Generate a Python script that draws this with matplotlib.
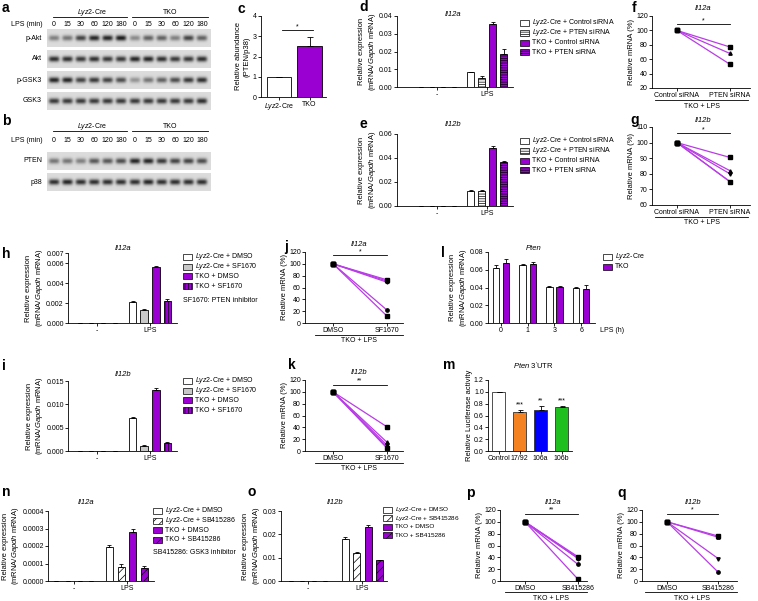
import numpy as np
import matplotlib
matplotlib.use("Agg")
import matplotlib.pyplot as plt
from matplotlib.patches import Rectangle
from matplotlib.ticker import FormatStrFormatter

plt.rcParams['font.family'] = 'Liberation Sans'
plt.rcParams['mathtext.fontset'] = 'custom'
plt.rcParams['mathtext.rm'] = 'Liberation Sans'
plt.rcParams['mathtext.it'] = 'Liberation Sans:italic'
plt.rcParams['hatch.linewidth'] = 0.5
plt.rcParams['axes.linewidth'] = 0.6

# ---------------- data ----------------
lps_minutes = ['0', '15', '30', '60', '120', '180']
# band darkness per lane: 6 x Lyz2-Cre then 6 x TKO
pakt_bands = [0.45, 0.5, 0.75, 0.9, 0.9, 0.95, 0.4, 0.6, 0.6, 0.45, 0.75, 0.6]
akt_bands = [0.85, 0.85, 0.8, 0.85, 0.8, 0.8, 0.9, 0.9, 0.85, 0.8, 0.8, 0.85]
pgsk3_bands = [0.9, 0.9, 0.75, 0.8, 0.75, 0.7, 0.35, 0.5, 0.6, 0.7, 0.8, 0.85]
gsk3_bands = [0.8, 0.8, 0.8, 0.8, 0.8, 0.8, 0.8, 0.8, 0.8, 0.8, 0.8, 0.85]
pten_bands = [0.5, 0.5, 0.45, 0.65, 0.65, 0.7, 0.9, 0.9, 0.8, 0.75, 0.75, 0.7]
p38_bands = [0.85, 0.9, 0.85, 0.85, 0.85, 0.85, 0.85, 0.9, 0.85, 0.85, 0.85, 0.85]

c_labels = [r'$\it{Lyz2}$-Cre', 'TKO']
c_mean = [1.0, 2.5]
c_err = [0.0, 0.45]

groups = ['-', 'LPS']
sirna_labels = [r'$\it{Lyz2}$-Cre + Control siRNA', r'$\it{Lyz2}$-Cre + PTEN siRNA',
                'TKO + Control siRNA', 'TKO + PTEN siRNA']
d_mean = [[0.0001, 0.0001, 0.0002, 0.0001], [0.0083, 0.0053, 0.0355, 0.0185]]
d_err = [[0, 0, 0, 0], [0.0003, 0.0007, 0.0012, 0.003]]
e_mean = [[0.0002, 0.0002, 0.0003, 0.0002], [0.0128, 0.0128, 0.0485, 0.0365]]
e_err = [[0, 0, 0, 0], [0.0004, 0.0005, 0.0012, 0.0012]]

pair_f = ['Control siRNA', 'PTEN siRNA']
f_after = [77, 68, 53]
g_after = [90.5, 82, 80, 75, 75]

sf_labels = [r'$\it{Lyz2}$-Cre + DMSO', r'$\it{Lyz2}$-Cre + SF1670', 'TKO + DMSO', 'TKO + SF1670']
h_mean = [[0.00002, 0.00002, 0.00002, 0.00002], [0.0021, 0.00135, 0.0056, 0.0022]]
h_err = [[0, 0, 0, 0], [0.0001, 0.00008, 0.00012, 0.0002]]
i_mean = [[0.00003, 0.00003, 0.00003, 0.00003], [0.0071, 0.0011, 0.0131, 0.0018]]
i_err = [[0, 0, 0, 0], [0.0002, 0.0001, 0.0003, 0.0001]]

pair_sf = ['DMSO', 'SF1670']
j_after = [73, 71, 69, 22, 12]
k_after = [41, 15, 10, 7, 5]

l_hours = ['0', '1', '3', '6']
l_lyz = [0.062, 0.065, 0.041, 0.039]
l_lyz_err = [0.003, 0.002, 0.001, 0.002]
l_tko = [0.068, 0.067, 0.041, 0.038]
l_tko_err = [0.004, 0.002, 0.001, 0.005]

m_labels = ['Control', '17/92', '106a', '106b']
m_mean = [1.0, 0.66, 0.70, 0.74]
m_err = [0.0, 0.03, 0.06, 0.02]
m_stars = ['', '***', '**', '***']

sb_labels = [r'$\it{Lyz2}$-Cre + DMSO', r'$\it{Lyz2}$-Cre + SB415286', 'TKO + DMSO', 'TKO + SB415286']
n_mean = [[0.000001, 0.000001, 0.000001, 0.000001], [0.000195, 0.000078, 0.00028, 0.000075]]
n_err = [[0, 0, 0, 0], [0.00001, 0.00002, 0.000015, 0.00001]]
o_mean = [[0.0001, 0.0001, 0.0001, 0.0001], [0.018, 0.012, 0.0233, 0.0089]]
o_err = [[0, 0, 0, 0], [0.0007, 0.0004, 0.0005, 0.0003]]

pair_sb = ['DMSO', 'SB415286']
p_after = [41, 39, 38, 28, 3]
q_after = [76, 74, 38, 15]

# ---------------- styles ----------------
PURPLE = '#9b00d2'
LINE = '#b83de6'
GREY = '#c8c8c8'
FS = 5
sirna_styles = [('white', None), ('white', '-------'), (PURPLE, None), (PURPLE, '-------')]
sf_styles = [('white', None), (GREY, None), (PURPLE, None), (PURPLE, '|||||')]
sb_styles = [('white', None), ('white', '////'), (PURPLE, None), (PURPLE, '////')]
m_colors = ['white', '#f58220', '#0000ff', '#1fbf1f']
f_markers = ['s', '^', 's']
pair_markers = ['s', '^', 'v', 'o', 's']
EXPR = 'Relative expression\n(mRNA/$\\it{Gapdh}$ mRNA)'

W, H = 758, 601
fig = plt.figure(figsize=(W / 100, H / 100), dpi=100)

# pixel-coordinate overlay for blots, titles, legends and panel letters
ov = fig.add_axes([0, 0, 1, 1], zorder=10)
ov.axis('off')


def px_axes(x0, y0, x1, y1):
    ax = fig.add_axes([x0 / W, 1 - y1 / H, (x1 - x0) / W, (y1 - y0) / H])
    ax.spines['top'].set_visible(False)
    ax.spines['right'].set_visible(False)
    ax.tick_params(direction='out', length=2, width=0.6, labelsize=FS, pad=1)
    ax.patch.set_alpha(0)
    return ax


def T(x, y, s, **kw):
    kw.setdefault('fontsize', FS)
    kw.setdefault('ha', 'center')
    kw.setdefault('va', 'center')
    ov.text(x, y, s, **kw)


def panel(x, y, s):
    ov.text(x, y, s, fontsize=10, fontweight='bold', ha='left', va='top')


def grouped(ax, means, errs, styles, off, width):
    means = np.array(means)
    errs = np.array(errs)
    xg = np.arange(means.shape[0])
    for b, (fc, hatch) in enumerate(styles):
        xs = xg + (b - 1.5) * off
        ax.bar(xs, means[:, b], width, color=fc, edgecolor='black', hatch=hatch,
               linewidth=0.6, zorder=2)
        e = errs[:, b]
        ax.errorbar(xs, means[:, b], yerr=[np.zeros_like(e), e], fmt='none', ecolor='black',
                    elinewidth=0.6, capsize=1.6, capthick=0.6, zorder=3)


def legend_px(x, y, dy, labels, styles, fs=FS):
    for k, (lab, (fc, hatch)) in enumerate(zip(labels, styles)):
        yy = y + k * dy
        ov.add_patch(Rectangle((x, yy - 3), 9, 6, facecolor=fc, edgecolor='black',
                               hatch=hatch, lw=0.5))
        T(x + 12, yy, lab, ha='left', fontsize=fs)


def paired(ax, after, ticklabels, ylim, yticks, sig_y, star, markers=pair_markers):
    for v, mk in zip(after, markers):
        ax.plot([0, 1], [100, v], color=LINE, lw=0.9, zorder=2)
        ax.plot([0], [100], marker='s', ms=2.4, color='black', ls='none', zorder=3)
        ax.plot([1], [v], marker=mk, ms=2.4, color='black', ls='none', zorder=3)
    ax.set_ylim(*ylim)
    ax.set_yticks(yticks)
    ax.set_xticks([0, 1])
    ax.set_xticklabels(ticklabels)
    ax.plot([0, 1], [sig_y, sig_y], color='black', lw=0.6, clip_on=False)
    ax.text(0.5, sig_y, star, fontsize=FS, ha='center', va='bottom')
    ax.set_ylabel('Relative mRNA (%)', fontsize=5.5, labelpad=1)


# ---------------- a / b: western blots ----------------
lane_x = np.concatenate([np.linspace(54, 121, 6), np.linspace(135, 202, 6)])


def blot(y0, y1, bands, name):
    x0, x1 = 47, 211
    sub = 4
    xs = np.linspace(x0, x1, (x1 - x0) * sub)
    ys = np.linspace(y0, y1, (y1 - y0) * sub)
    X, Y = np.meshgrid(xs, ys)
    img = np.full(X.shape, 0.86)
    yc = (y0 + y1) / 2
    for xc, v in zip(lane_x, bands):
        img -= 0.8 * v * np.exp(-((X - xc) / 5.3) ** 4 - ((Y - yc) / 2.8) ** 2)
    ov.imshow(img, cmap='gray', vmin=0, vmax=1, extent=(x0, x1, y1, y0),
              aspect='auto', interpolation='bilinear')
    T(42, yc, name, ha='right')


def blot_header(y_head, y_lps):
    T(92, y_head - 5, r'$\it{Lyz2}$-Cre')
    T(170, y_head - 5, 'TKO')
    ov.plot([53, 127], [y_head, y_head], color='black', lw=0.6)
    ov.plot([132, 208], [y_head, y_head], color='black', lw=0.6)
    T(43, y_lps, 'LPS (min)', ha='right')
    for xx, lab in zip(lane_x, lps_minutes + lps_minutes):
        T(xx, y_lps, lab)


panel(2, 1, 'a')
blot_header(17, 25)
blot(29, 47, pakt_bands, 'p-Akt')
blot(50, 68, akt_bands, 'Akt')
blot(71, 89, pgsk3_bands, 'p-GSK3')
blot(92, 110, gsk3_bands, 'GSK3')

panel(2, 114, 'b')
blot_header(131, 140)
blot(152, 170, pten_bands, 'PTEN')
blot(173, 191, p38_bands, 'p38')

# ---------------- c ----------------
panel(238, 2, 'c')
ax = px_axes(261, 16, 326, 97)
ax.bar([0, 1], c_mean, 0.79, color=['white', PURPLE], edgecolor='black', linewidth=0.6, zorder=2)
ax.errorbar([0, 1], c_mean, yerr=[[0, 0], c_err], fmt='none', ecolor='black',
            elinewidth=0.6, capsize=2, capthick=0.6)
ax.set_xlim(-0.59, 1.54)
ax.set_ylim(0, 4)
ax.set_yticks([0, 1, 2, 3, 4])
ax.set_xticks([0, 1])
ax.set_xticklabels(c_labels)
ax.set_ylabel('Relative abundance\n(PTEN/p38)', fontsize=5.5, labelpad=2)
ax.plot([0.1, 1.1], [3.3, 3.3], color='black', lw=0.6)
ax.text(0.6, 3.3, '*', fontsize=FS, ha='center', va='bottom')

# ---------------- d / e ----------------
for lab, box, means, errs, top, ticks, title, ty, ly in [
        ('d', (397, 16, 513, 87), d_mean, d_err, 0.04, [0, 0.01, 0.02, 0.03, 0.04], 'Il12a', 14, 23),
        ('e', (397, 134, 513, 206), e_mean, e_err, 0.06, [0, 0.02, 0.04, 0.06], 'Il12b', 124, 141)]:
    panel(359, 0 if lab == 'd' else box[1] - 17, lab)
    ax = px_axes(*box)
    grouped(ax, means, errs, sirna_styles, 0.22, 0.14)
    ax.set_xlim(-0.8, 1.52)
    ax.set_ylim(0, top)
    ax.set_yticks(ticks)
    ax.yaxis.set_major_formatter(FormatStrFormatter('%.2f'))
    ax.set_xticks([0, 1])
    ax.set_xticklabels(groups)
    ax.set_ylabel(EXPR, fontsize=5.5, labelpad=1)
    T(453, ty, title, fontsize=5.5, style='italic')
    legend_px(520, ly, 9.8, sirna_labels, sirna_styles)

# ---------------- f / g ----------------
panel(632, 1, 'f')
ax = px_axes(652, 16, 750, 88)
ax.set_xlim(-0.47, 1.38)
paired(ax, f_after, pair_f, (20, 120), range(20, 121, 20), 109, '*', f_markers)
T(703, 9, 'Il12a', fontsize=5.5, style='italic')
ov.plot([655, 748], [100, 100], color='black', lw=0.6)
T(702, 106, 'TKO + LPS')

panel(630, 113, 'g')
ax = px_axes(652, 127, 750, 205)
ax.set_xlim(-0.47, 1.38)
paired(ax, g_after, pair_f, (60, 110), range(60, 111, 10), 106, '*')
T(703, 120, 'Il12b', fontsize=5.5, style='italic')
ov.plot([655, 748], [217, 217], color='black', lw=0.6)
T(702, 223, 'TKO + LPS')

# ---------------- h / i ----------------
for lab, box, means, errs, top, ticks, fmt, title, ty, ly, ldy in [
        ('h', (68, 253, 177, 323), h_mean, h_err, 0.007, [0, 0.002, 0.004, 0.006, 0.007], '%.3f',
         'Il12a', 249, 257, 9.7),
        ('i', (68, 381, 177, 451), i_mean, i_err, 0.015, [0, 0.005, 0.010, 0.015], '%.3f',
         'Il12b', 374, 381, 9.7)]:
    panel(2, box[1] - 6 if lab == 'h' else box[1] - 22, lab)
    ax = px_axes(*box)
    grouped(ax, means, errs, sf_styles, 0.22, 0.14)
    ax.set_xlim(-0.55, 1.51)
    ax.set_ylim(0, top)
    ax.set_yticks(ticks)
    ax.yaxis.set_major_formatter(FormatStrFormatter(fmt))
    ax.set_xticks([0, 1])
    ax.set_xticklabels(groups)
    ax.set_ylabel(EXPR, fontsize=5.5, labelpad=1)
    T(123, ty, title, fontsize=5.5, style='italic')
    legend_px(183, ly, ldy, sf_labels, sf_styles)
T(183, 300, 'SF1670: PTEN inhibitor', ha='left')

# ---------------- j / k ----------------
panel(284, 240, 'j')
ax = px_axes(305, 252, 403, 323)
ax.set_xlim(-0.52, 1.30)
paired(ax, j_after, pair_sf, (0, 120), range(0, 121, 20), 115, '*')
T(359, 244, 'Il12a', fontsize=5.5, style='italic')
ov.plot([315, 403], [335, 335], color='black', lw=0.6)
T(359, 341, 'TKO + LPS')

panel(288, 358, 'k')
ax = px_axes(305, 380, 403, 451)
ax.set_xlim(-0.52, 1.30)
paired(ax, k_after, pair_sf, (0, 120), range(0, 121, 20), 112, '**')
T(359, 373, 'Il12b', fontsize=5.5, style='italic')
ov.plot([315, 403], [463, 463], color='black', lw=0.6)
T(359, 468, 'TKO + LPS')

# ---------------- l ----------------
panel(441, 246, 'l')
ax = px_axes(488, 252, 595, 323)
xl = np.arange(len(l_hours))
ax.bar(xl - 0.19, l_lyz, 0.24, color='white', edgecolor='black', linewidth=0.6, zorder=2)
ax.bar(xl + 0.19, l_tko, 0.24, color=PURPLE, edgecolor='black', linewidth=0.6, zorder=2)
ax.errorbar(xl - 0.19, l_lyz, yerr=[np.zeros(4), l_lyz_err], fmt='none', ecolor='black',
            elinewidth=0.6, capsize=1.6, capthick=0.6)
ax.errorbar(xl + 0.19, l_tko, yerr=[np.zeros(4), l_tko_err], fmt='none', ecolor='black',
            elinewidth=0.6, capsize=1.6, capthick=0.6)
ax.set_xlim(-0.49, 3.52)
ax.set_ylim(0, 0.08)
ax.set_yticks([0, 0.02, 0.04, 0.06, 0.08])
ax.yaxis.set_major_formatter(FormatStrFormatter('%.2f'))
ax.set_xticks(xl)
ax.set_xticklabels(l_hours)
ax.set_ylabel(EXPR, fontsize=5.5, labelpad=1)
T(534, 249, 'Pten', fontsize=5.5, style='italic')
T(600, 330, 'LPS (h)', ha='left')
legend_px(603, 257, 10, [r'$\it{Lyz2}$-Cre', 'TKO'], [('white', None), (PURPLE, None)])

# ---------------- m ----------------
panel(443, 358, 'm')
ax = px_axes(488, 380, 572, 451)
xm = np.arange(len(m_labels))
ax.bar(xm, m_mean, 0.64, color=m_colors, edgecolor='#333333', linewidth=0.6, zorder=2)
ax.errorbar(xm, m_mean, yerr=[np.zeros(4), m_err], fmt='none', ecolor='black',
            elinewidth=0.6, capsize=1.8, capthick=0.6)
for x, v, e, s in zip(xm, m_mean, m_err, m_stars):
    ax.text(x, v + e + 0.03, s, fontsize=FS, ha='center', va='bottom')
ax.set_xlim(-0.5, 3.5)
ax.set_ylim(0, 1.2)
ax.set_yticks(np.arange(0, 1.21, 0.2))
ax.yaxis.set_major_formatter(FormatStrFormatter('%.1f'))
ax.set_xticks(xm)
ax.set_xticklabels(m_labels)
ax.set_ylabel('Relative Luciferase activity', fontsize=5.5, labelpad=1)
T(533, 366, r'$\it{Pten}$ 3$^\prime$UTR', fontsize=5.5)

# ---------------- n / o ----------------
panel(2, 485, 'n')
ax = px_axes(48, 511, 154, 581)
grouped(ax, n_mean, n_err, sb_styles, 0.22, 0.135)
ax.set_xlim(-0.49, 1.51)
ax.set_ylim(0, 0.0004)
ax.set_yticks(np.arange(0, 0.00041, 0.0001))
ax.yaxis.set_major_formatter(FormatStrFormatter('%.4f'))
ax.set_xticks([0, 1])
ax.set_xticklabels(groups)
ax.set_ylabel(EXPR, fontsize=5.5, labelpad=1)
T(86, 502, 'Il12a', fontsize=5.5, style='italic')
legend_px(153, 511, 9.5, sb_labels, sb_styles)
T(153, 553, 'SB415286: GSK3 inhibitor', ha='left')

panel(248, 485, 'o')
ax = px_axes(281, 511, 387, 581)
grouped(ax, o_mean, o_err, sb_styles, 0.21, 0.13)
ax.set_xlim(-0.49, 1.45)
ax.set_ylim(0, 0.03)
ax.set_yticks([0, 0.01, 0.02, 0.03])
ax.yaxis.set_major_formatter(FormatStrFormatter('%.2f'))
ax.set_xticks([0, 1])
ax.set_xticklabels(groups)
ax.set_ylabel(EXPR, fontsize=5.5, labelpad=1)
T(335, 502, 'Il12b', fontsize=5.5, style='italic')
legend_px(383, 510, 8.4, sb_labels, sb_styles, fs=4.6)

# ---------------- p / q ----------------
panel(466, 486, 'p')
ax = px_axes(500, 510, 587, 581)
ax.set_xlim(-0.47, 1.17)
paired(ax, p_after, pair_sb, (0, 120), range(0, 121, 20), 114, '**')
T(553, 502, 'Il12a', fontsize=5.5, style='italic')
ov.plot([505, 587], [592, 592], color='black', lw=0.6)
T(551, 598, 'TKO + LPS')

panel(617, 486, 'q')
ax = px_axes(642, 510, 737, 581)
ax.set_xlim(-0.49, 1.37)
paired(ax, q_after, pair_sb, (0, 120), range(0, 121, 20), 114, '*')
T(693, 502, 'Il12b', fontsize=5.5, style='italic')
ov.plot([645, 737], [592, 592], color='black', lw=0.6)
T(692, 598, 'TKO + LPS')

ov.set_xlim(0, W)
ov.set_ylim(H, 0)
fig.savefig('out.png', dpi=100)
